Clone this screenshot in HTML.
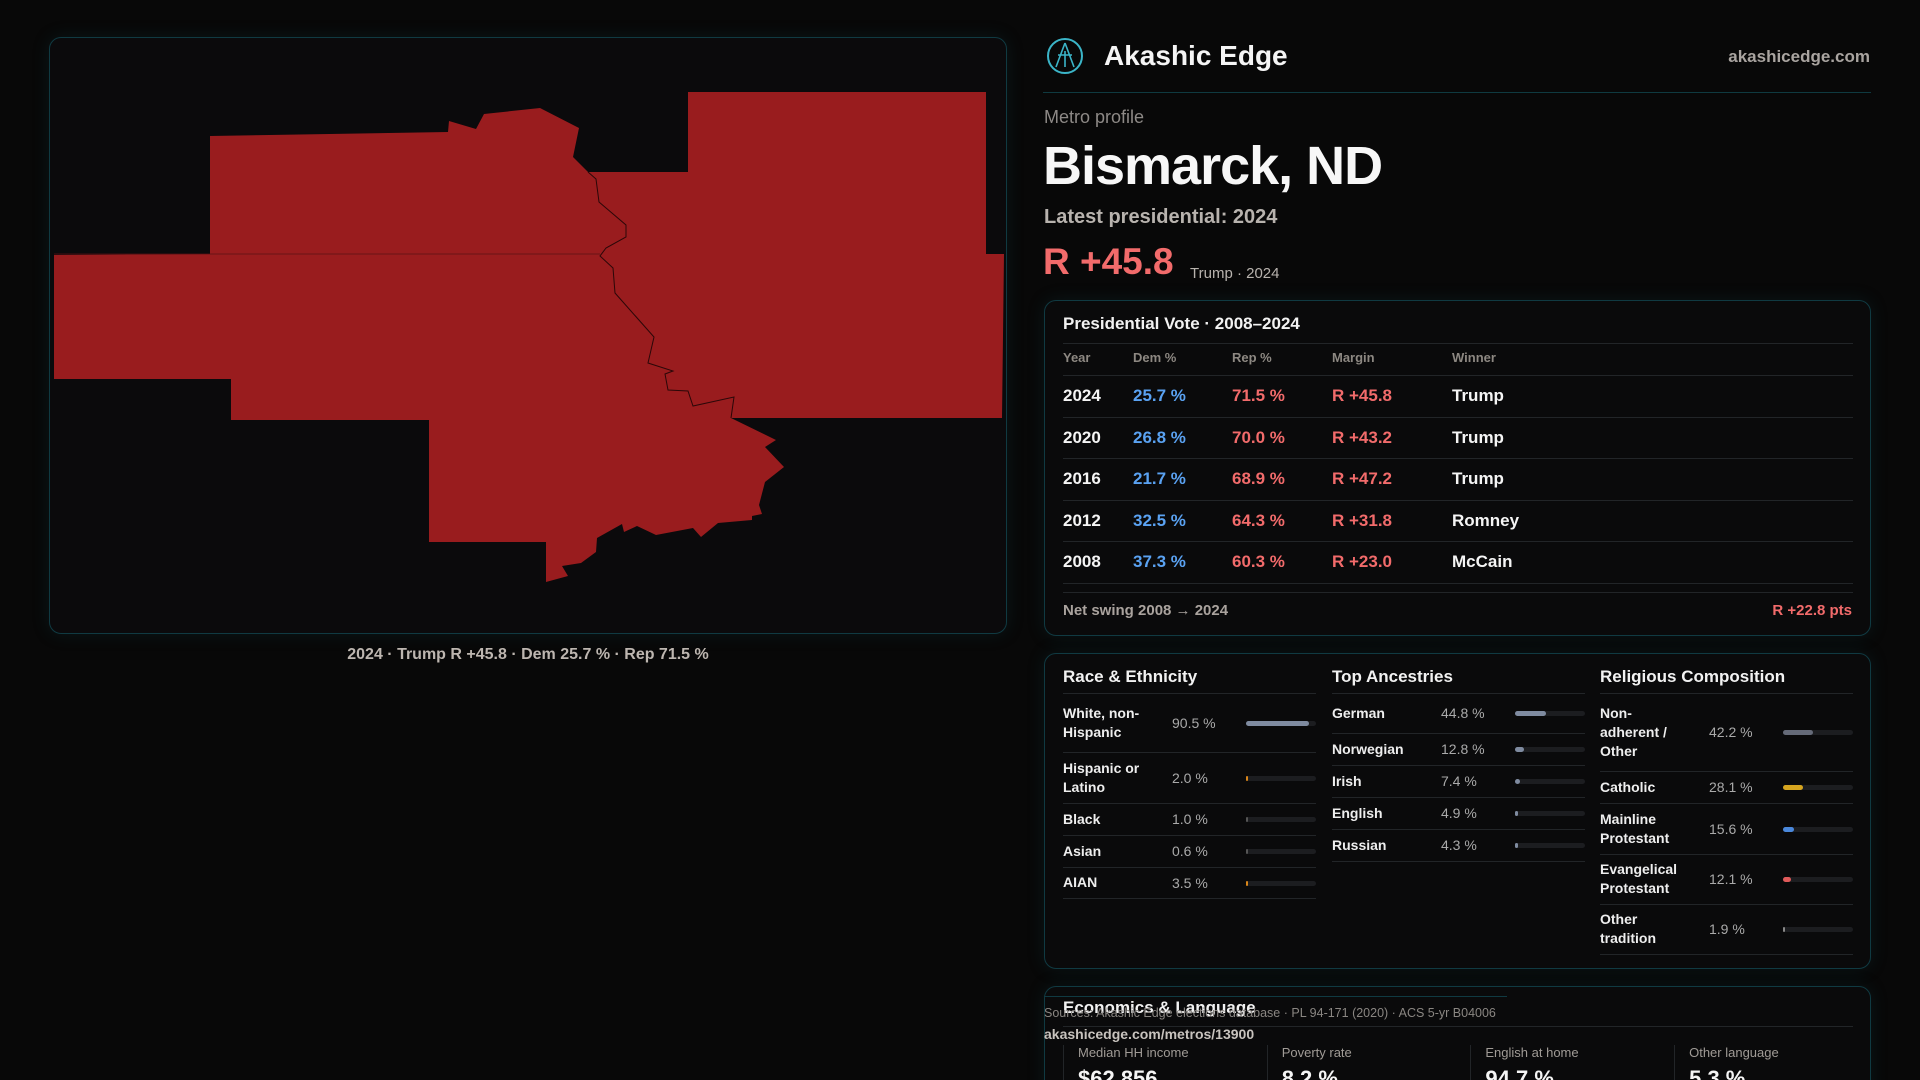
<!DOCTYPE html>
<html><head><meta charset="utf-8">
<style>
*{margin:0;padding:0;box-sizing:border-box}
html,body{width:1920px;height:1080px;overflow:hidden;background:#080808}
body{font-family:"Liberation Sans",sans-serif;color:#f2f2f2;position:relative}
#root{position:absolute;left:0;top:0;width:1920px;height:1080px;overflow:hidden;background:#080808}
.a{position:absolute;white-space:nowrap}
.panel{position:absolute;background:#0a0a0b;border:1px solid #103a42;border-radius:12px;box-shadow:0 0 18px rgba(20,90,100,0.18)}
.hl{position:absolute;height:1px;background:#222528}
.lbl{position:absolute;font-size:14px;font-weight:bold;color:#eee;line-height:19px;white-space:normal}
.val{position:absolute;font-size:14px;color:#aaa;white-space:nowrap}
.trk{position:absolute;height:5px;background:#1c1d20;border-radius:3px}
.fil{position:absolute;left:0;top:0;height:5px;border-radius:3px}
</style></head><body>
<div id="root">
<div class="panel" style="left:49px;top:37px;width:958px;height:597px;background:#0b0a0c"></div>
<svg class="a" style="left:0;top:0" width="1010" height="640">
<polygon fill="#991c1e" points="210,136 448,132 449,121 476,129 484,114 540,108 579,128 573,157 588,172 688,172 688,92 986,92 986,254 1004,254 1002,418 731,418 776,440 765,447 784,467 765,482 759,505 762,514 752,516 752,520 718,523 701,537 693,528 656,535 637,526 624,532 622,524 597,538 596,552 581,563 562,566 568,576 546,582 546,542 429,542 429,420 231,420 231,379 54,379 54,255 210,254"/>
<polyline fill="none" stroke="#2a0708" stroke-width="1" points="588,172 596,179 599,202 626,225 626,237 606,248 600,256 613,268 615,293 654,337 648,363 673,371 665,374 668,390 688,391 693,406 734,397 731,418"/>
<line x1="54" y1="254" x2="600" y2="254" stroke="#5a1214" stroke-width="0.8"/>
</svg>
<div class="a" style="left:49px;width:958px;text-align:center;top:646px;font-size:16px;font-weight:bold;color:#bdb6b0">2024 · Trump R +45.8 · Dem 25.7 % · Rep 71.5 %</div>

<svg class="a" style="left:1046px;top:37px" width="38" height="38"><circle cx="19" cy="19" r="17" fill="none" stroke="#3bb5c8" stroke-width="2"/><path d="M19 6 L10 30 M19 6 L28 30 M12 18 L26 18 M19 14 L19 30" stroke="#3bb5c8" stroke-width="1.6" fill="none"/></svg>
<div class="a" style="left:1104px;top:40px;font-size:28px;font-weight:bold;color:#f5f5f5">Akashic Edge</div>
<div class="a" style="right:50px;top:47px;font-size:17px;font-weight:bold;color:#a9a4a0">akashicedge.com</div>
<div class="a" style="left:1043px;top:92px;width:828px;height:1px;background:#0f3a40"></div>
<div class="a" style="left:1044px;top:107px;font-size:18px;color:#8d8986">Metro profile</div>
<div class="a" style="left:1043px;top:135px;font-size:54px;font-weight:bold;color:#f7f7f7;letter-spacing:-1px">Bismarck, ND</div>
<div class="a" style="left:1044px;top:206px;font-size:20px;font-weight:bold;color:#b8b3ae">Latest presidential: 2024</div>
<div class="a" style="left:1043px;top:241px;font-size:37px;font-weight:bold;color:#f26b6b">R +45.8</div>
<div class="a" style="left:1190px;top:265px;font-size:15px;color:#b8b3ae">Trump · 2024</div>

<div class="panel" style="left:1044px;top:300px;width:827px;height:336px"></div>
<div class="a" style="left:1063px;top:314px;font-size:17px;font-weight:bold">Presidential Vote · 2008–2024</div>
<div class="hl" style="left:1063px;top:343px;width:790px"></div>
<div id="vt"></div>
<div class="hl" style="left:1063px;top:592px;width:790px"></div>
<div class="a" style="left:1063px;top:602px;font-size:15px;font-weight:bold;color:#aaa39e">Net swing 2008 → 2024</div>
<div class="a" style="right:68px;top:602px;font-size:15px;font-weight:bold;color:#f26b6b">R +22.8 pts</div>

<div class="panel" style="left:1044px;top:653px;width:827px;height:316px"></div>
<div class="a" style="left:1063px;top:667px;font-size:17px;font-weight:bold">Race &amp; Ethnicity</div>
<div class="a" style="left:1332px;top:667px;font-size:17px;font-weight:bold">Top Ancestries</div>
<div class="a" style="left:1600px;top:667px;font-size:17px;font-weight:bold">Religious Composition</div>
<div class="hl" style="left:1063px;top:693px;width:253px"></div>
<div class="hl" style="left:1332px;top:693px;width:253px"></div>
<div class="hl" style="left:1600px;top:693px;width:253px"></div>
<div id="demo"></div>

<div class="panel" style="left:1044px;top:986px;width:827px;height:140px"></div>
<div class="a" style="left:1063px;top:998px;font-size:17px;font-weight:bold">Economics &amp; Language</div>
<div class="hl" style="left:1063px;top:1026px;width:790px"></div>
<div class="a" style="left:1044px;top:996px;width:463px;height:1px;background:#103a42"></div>
<div class="a" style="left:1044px;top:1006px;font-size:12.5px;color:#8a8682">Sources: Akashic Edge elections database · PL 94-171 (2020) · ACS 5-yr B04006</div>
<div class="a" style="left:1044px;top:1026px;font-size:14px;font-weight:bold;color:#c8c3be">akashicedge.com/metros/13900</div>
<div id="econ"></div>
</div>
<script>
const years=["2024","2020","2016","2012","2008"];
const demPct=[25.7,26.8,21.7,32.5,37.3];
const repPct=[71.5,70.0,68.9,64.3,60.3];
const winners=["Trump","Trump","Trump","Romney","McCain"];

const raceLabels=["White, non-Hispanic","Hispanic or Latino","Black","Asian","AIAN"];
const raceVals=[90.5,2.0,1.0,0.6,3.5];
const ancLabels=["German","Norwegian","Irish","English","Russian"];
const ancVals=[44.8,12.8,7.4,4.9,4.3];
const relLabels=["Non-adherent / Other","Catholic","Mainline Protestant","Evangelical Protestant","Other tradition"];
const relVals=[42.2,28.1,15.6,12.1,1.9];

const econLabels=["Median HH income","Poverty rate","English at home","Other language"];
const econVals=["$62,856","8.2 %","94.7 %","5.3 %"];

function mk(parent,cls,style,text){const d=document.createElement('div');if(cls)d.className=cls;d.style.cssText=style;if(text!==undefined)d.textContent=text;parent.appendChild(d);return d;}
const vt=document.getElementById('vt');
const cols=[1063,1133,1232,1332,1452];
const heads=["Year","Dem %","Rep %","Margin","Winner"];
heads.forEach((h,i)=>{const e=mk(vt,'a',`left:${cols[i]}px;top:350px;font-size:13px;font-weight:bold;color:#8d8882`,h);

});
mk(vt,'hl','left:1063px;top:375px;width:790px');
years.forEach((y,i)=>{
  const top=375+i*41.6;
  const r=document.createElement('div');
  
  
  vt.appendChild(r);
  const ty=top+11;
  const m=(repPct[i]-demPct[i]).toFixed(1);
  mk(r,'a',`left:${cols[0]}px;top:${ty}px;font-size:17px;font-weight:bold;color:#f5f5f5`,y);
  mk(r,'a',`left:${cols[1]}px;top:${ty}px;font-size:17px;font-weight:bold;color:#5aa2f2`,demPct[i].toFixed(1)+' %');
  mk(r,'a',`left:${cols[2]}px;top:${ty}px;font-size:17px;font-weight:bold;color:#f26b6b`,repPct[i].toFixed(1)+' %');
  mk(r,'a',`left:${cols[3]}px;top:${ty}px;font-size:17px;font-weight:bold;color:#f26b6b`,'R +'+m);
  mk(r,'a',`left:${cols[4]}px;top:${ty}px;font-size:17px;font-weight:bold;color:#f5f5f5`,winners[i]);
  mk(r,'hl',`left:1063px;top:${top+41.6}px;width:790px`);
});
const demo=document.getElementById('demo');
function col(x,labels,vals,colors,heights,prefix,lw){
  let y=693;
  labels.forEach((l,i)=>{
    const h=heights[i];const cy=y+h/2;
    const g=document.createElement('div');
    
    
    demo.appendChild(g);
    const lines=Math.max(1,Math.round((h-14)/19));
    mk(g,'lbl',`left:${x}px;top:${cy-lines*19/2}px;width:${lw}px`,l);
    mk(g,'val',`left:${x+109}px;top:${cy-8}px`,vals[i].toFixed(1)+' %');
    const t=mk(g,'trk',`left:${x+183}px;top:${cy-2}px;width:70px`);
    const f=mk(t,'fil',`width:${Math.max(1.5,vals[i]/100*70)}px;background:${colors[i]}`);
    
    
    mk(g,'hl',`left:${x}px;top:${y+h}px;width:253px`);
    y+=h;
  });
}
col(1063,raceLabels,raceVals,["#7f8ba0","#d9861a","#555","#555","#d9861a"],[59,51,32,32,31],'race',95);
col(1332,ancLabels,ancVals,["#7f8ba0","#7f8ba0","#7f8ba0","#7f8ba0","#7f8ba0"],[40,32,32,32,32],'ancestry',100);
col(1600,relLabels,relVals,["#656a78","#d6a51f","#4a88dc","#e05a5a","#888"],[78,32,51,50,50],'religion',82);
const econ=document.getElementById('econ');
econLabels.forEach((l,i)=>{
  const x=1063+i*203.7;
  const c=document.createElement('div');
  
  
  econ.appendChild(c);
  mk(c,'a',`left:${x}px;top:1045px;width:1px;height:40px;background:#222528`);
  mk(c,'a',`left:${x+15}px;top:1045px;font-size:13px;color:#a09b96`,l);
  mk(c,'a',`left:${x+15}px;top:1066px;font-size:22px;font-weight:bold;color:#f5f5f5`,econVals[i]);
});
</script>
</body></html>
